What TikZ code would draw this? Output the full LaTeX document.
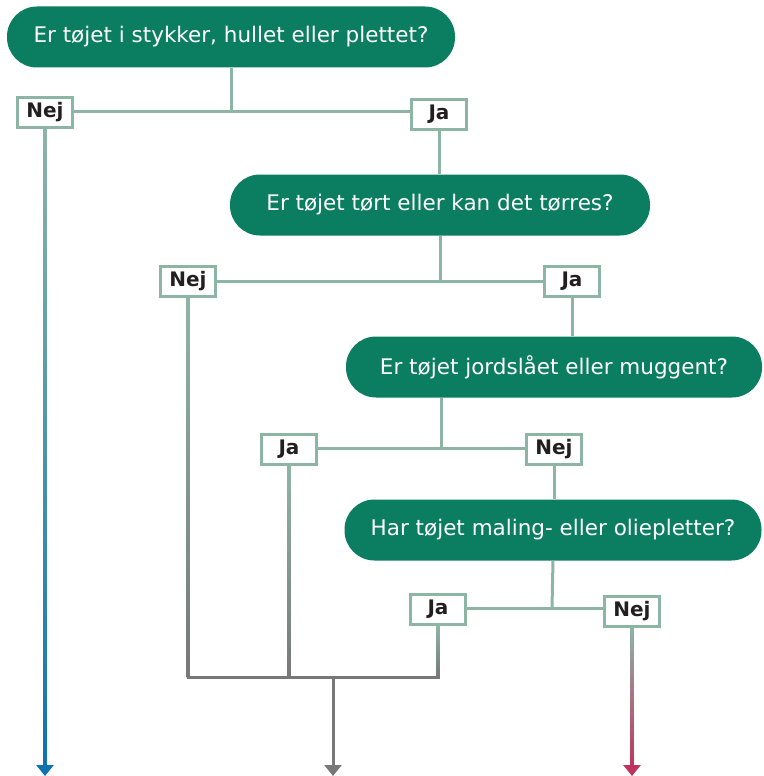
\documentclass[tikz,border=0pt]{standalone}
\usepackage{fontspec}
\setmainfont{DejaVu Sans}
\usetikzlibrary{arrows.meta,calc}

\definecolor{leafgreen}{HTML}{0B7D60}
\definecolor{sage}{HTML}{8DB5A6}
\definecolor{outblue}{HTML}{0A73B0}
\definecolor{outgrey}{HTML}{787878}
\definecolor{outred}{HTML}{C0335F}
\definecolor{inkdark}{HTML}{231F20}

\tikzset{
  question/.style={fill=leafgreen, text=white, rounded corners=30pt,
    minimum height=61pt, inner xsep=0pt,
    font=\fontsize{21.5}{25}\selectfont},
  answer/.style={draw=sage, line width=3pt, fill=white, text=inkdark,
    minimum width=55pt, minimum height=30pt, inner sep=0pt,
    font=\bfseries\fontsize{20}{24}\selectfont},
  link/.style={draw=sage, line width=3pt},
  outcome/.style={line width=3pt, -{Triangle[width=17pt,length=11pt]}},
}

% a line that fades from sage into the colour of its outcome
\newcommand{\fadeline}[3]{%
  \shade[top color=sage, bottom color=#3]
    ($(#1)+(-1.5,0)$) rectangle ($(#2)+(1.5,0)$);}

\begin{document}
\begin{tikzpicture}[x=1pt,y=-1pt]
  \useasboundingbox (0,0) rectangle (763,776);

  \coordinate (floor) at (0,776);
  \coordinate (gather) at (0,677);
  \coordinate (fork3) at (441,448);

  % questions
  \node[question, minimum width=448pt] (q1) at (231,37) {Er tøjet i stykker, hullet eller plettet?};
  \node[question, minimum width=420pt] (q2) at (440,205) {Er tøjet tørt eller kan det tørres?};
  \node[question, minimum width=416pt] (q3) at (554,367) {Er tøjet jordslået eller muggent?};
  \node[question, minimum width=417pt] (q4) at (553,530) {Har tøjet maling- eller oliepletter?};

  % connectors between question and answers
  \draw[link] (q1.south) -- (231,111);
  \draw[link] (45,111) -- (439,111);
  \draw[link] (439,111) -- (q2.north -| 439,0);
  \draw[link] (q2.south) -- (440,281);
  \draw[link] (188,281) -- (572,281);
  \draw[link] (572,281) -- (q3.north -| 572,0);
  \draw[link] (fork3 |- q3.south) -- (fork3);
  \draw[link] (289,448) -- (554,448);
  \draw[link] (554,448) -- (q4.north -| 554,0);
  \draw[link] (q4.south) -- (552,608);
  \draw[link] (438,608) -- (632,608);

  % answers
  \node[answer] (nej1) at (45,112) {Nej};
  \node[answer] (ja1) at (439,114) {Ja};
  \node[answer] (nej2) at (188,281) {Nej};
  \node[answer] (ja2) at (572,281) {Ja};
  \node[answer] (ja3) at (289,449) {Ja};
  \node[answer] (nej3) at (554,449) {Nej};
  \node[answer] (ja4) at (438,609) {Ja};
  \node[answer] (nej4) at (632,611) {Nej};

  % outcomes
  \fadeline{nej1.south}{$(nej1.south |- floor)+(0,-8)$}{outblue}
  \draw[outcome, outblue] ($(nej1.south |- floor)+(0,-14)$) -- (nej1.south |- floor);

  \fadeline{nej2.south}{nej2.south |- gather}{outgrey}
  \fadeline{ja3.south}{ja3.south |- gather}{outgrey}
  \fadeline{ja4.south}{ja4.south |- gather}{outgrey}
  \draw[outgrey, line width=3pt, line cap=rect] (nej2.south |- gather) -- (ja4.south |- gather);
  \draw[outcome, outgrey] (333,677) -- (333,776);

  \fadeline{nej4.south}{$(nej4.south |- floor)+(0,-8)$}{outred}
  \draw[outcome, outred] ($(nej4.south |- floor)+(0,-14)$) -- (nej4.south |- floor);
\end{tikzpicture}
\end{document}
